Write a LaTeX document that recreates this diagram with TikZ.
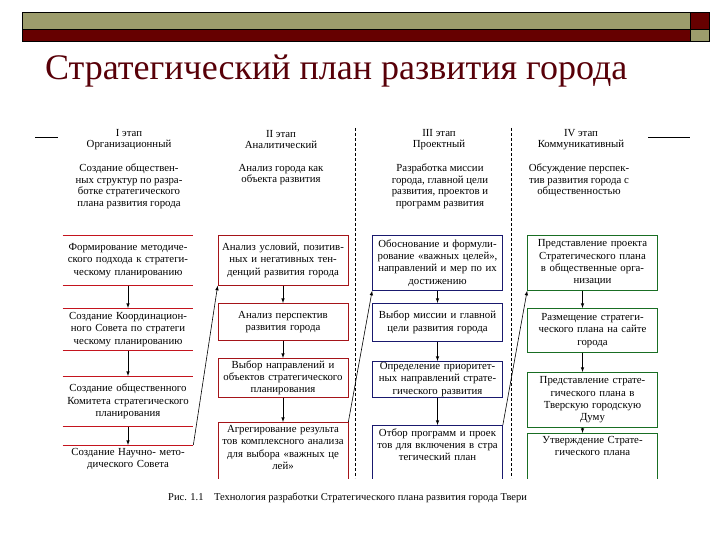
\documentclass[tikz,border=0pt]{standalone}
\usepackage{fontspec}
\setmainfont{Liberation Serif}
\definecolor{olivebar}{RGB}{156,156,108}
\definecolor{maroonbar}{RGB}{102,0,0}
\definecolor{titlered}{RGB}{88,0,8}
\definecolor{linered}{RGB}{196,20,30}
\definecolor{boxred}{RGB}{165,20,25}
\definecolor{boxblue}{RGB}{25,25,110}
\definecolor{boxgreen}{RGB}{25,110,35}
\begin{document}
\begin{tikzpicture}[x=1pt,y=-1pt]
\tikzstyle{etap}=[font=\fontsize{10.8}{11}\selectfont, align=center, inner sep=0]
\tikzstyle{opis}=[font=\fontsize{10.8}{11.5}\selectfont, align=center, inner sep=0, anchor=north]
\tikzstyle{blok}=[anchor=north, text width=128pt, align=center, inner xsep=1pt, inner ysep=1pt, font=\fontsize{10.8}{12.3}\selectfont, line width=.7pt]
\tikzstyle{niz}=[text depth=52pt, inner ysep=3pt]
\tikzstyle{strelka}=[-latex, line width=.6pt]
\useasboundingbox (0,0) rectangle (720,540);
\draw[fill=olivebar](22,12)rectangle(690,29);
\draw[fill=maroonbar](22,29)rectangle(690,41);
\draw[fill=maroonbar](690,12)rectangle(709,29);
\draw[fill=olivebar](690,29)rectangle(709,41);
\node[anchor=base west, inner sep=0, text=titlered, font=\fontsize{36}{36}\selectfont](title)at(45,80){Стратегический план развития города};
\draw[line width=.6pt](35,137)--(58,137);
\draw[line width=.6pt](648,137)--(690,137);
\node[etap](e1)at(129,139.5){I этап\\Организационный};
\node[etap](e2)at(281,139.5){II этап\\Аналитический};
\node[etap](e3)at(439,139.5){III этап\\Проектный};
\node[etap](e4)at(581,139.5){IV этап\\Коммуникативный};
\node[opis](d1)at(129,164){Создание обществен-\\ных структур по разра-\\ботке стратегического\\плана развития города};
\node[opis](d2)at(281,164){Анализ города как\\объекта развития};
\node[opis](d3)at(440,164){Разработка миссии\\города, главной цели\\развития, проектов и\\программ развития};
\node[opis](d4)at(579,164){Обсуждение перспек-\\тив развития города с\\общественностью};
\begin{scope}
\clip(0,120)rectangle(720,478);
\draw[dashed, dash pattern=on 3pt off 2pt, line width=.6pt](355,128)--(355,478);
\draw[dashed, dash pattern=on 3pt off 2pt, line width=.6pt](511,128)--(511,478);
\node[blok, minimum height=50pt](o1)at(128,235){Формирование методиче-\\ского подхода к стратеги-\\ческому планированию};
\node[blok, minimum height=42pt](o2)at(128,308){Создание Координацион-\\ного Совета по стратеги\\ческому планированию};
\node[blok, minimum height=50pt](o3)at(128,376){Создание общественного\\Комитета стратегического\\планирования};
\node[blok, niz](o4)at(128,445){Создание Научно- мето-\\дического Совета};
\foreach \n in {o1,o2,o3,o4}
  \draw[linered, line width=.7pt](\n.north west)--(\n.north east)(\n.south west)--(\n.south east);
\node[blok, draw=boxred, minimum height=50pt](a1)at(283,235){Анализ условий, позитив-\\ных и негативных тен-\\денций развития города};
\node[blok, draw=boxred, minimum height=37pt](a2)at(283,303){Анализ перспектив\\развития города};
\node[blok, draw=boxred, minimum height=39pt](a3)at(283,358){Выбор направлений и\\объектов стратегического\\планирования};
\node[blok, draw=boxred, niz](a4)at(283,422){Агрегирование результа\\тов комплексного анализа\\для выбора «важных це\\лей»};
\node[blok, draw=boxblue, minimum height=55pt](p1)at(437.5,235){Обоснование и формули-\\рование «важных целей»,\\направлений и мер по их\\достижению};
\node[blok, draw=boxblue, minimum height=38pt](p2)at(437.5,303){Выбор миссии и главной\\цели развития города};
\node[blok, draw=boxblue, minimum height=36pt](p3)at(437.5,361){Определение приоритет-\\ных направлений страте-\\гического развития};
\node[blok, draw=boxblue, niz](p4)at(437.5,425){Отбор программ и проек\\тов для включения в стра\\тегический план};
\node[blok, draw=boxgreen, minimum height=55pt](k1)at(592.5,235){Представление проекта\\Стратегического плана\\в общественные орга-\\низации};
\node[blok, draw=boxgreen, minimum height=44pt](k2)at(592.5,308){Размещение стратеги-\\ческого плана на сайте\\города};
\node[blok, draw=boxgreen, minimum height=55pt](k3)at(592.5,372){Представление страте-\\гического плана в\\Тверскую городскую\\Думу};
\node[blok, draw=boxgreen, niz](k4)at(592.5,433){Утверждение Страте-\\гического плана};
\draw[strelka](o1)--(o2);
\draw[strelka](o2)--(o3);
\draw[strelka](o3)--(o4);
\draw[strelka](a1)--(a2);
\draw[strelka](a2)--(a3);
\draw[strelka](a3)--(a4);
\draw[strelka](p1)--(p2);
\draw[strelka](p2)--(p3);
\draw[strelka](p3)--(p4);
\draw[strelka]([xshift=-10pt]k1.south)--([xshift=-10pt]k2.north);
\draw[strelka]([xshift=-10pt]k2.south)--([xshift=-10pt]k3.north);
\draw[strelka]([xshift=-10pt]k3.south)--([xshift=-10pt]k4.north);
\draw[strelka](o4.north east)--(a1.south west);
\draw[strelka](a4.north east)--(p1.south west);
\draw[strelka](p4.north east)--(k1.south west);
\end{scope}
\node[anchor=base west, inner sep=0, font=\fontsize{10.5}{11}\selectfont](podpis)at(168,500){Рис. 1.1\quad Технология разработки Стратегического плана развития города Твери};
\end{tikzpicture}
\end{document}
